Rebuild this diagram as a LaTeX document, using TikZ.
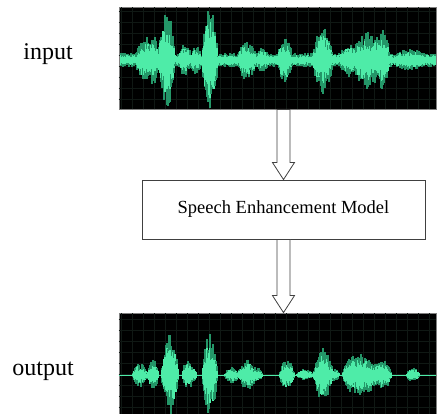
\documentclass[tikz,border=0pt]{standalone}
\usepackage{fontspec}
\setmainfont{Liberation Serif}
\usetikzlibrary{calc}

\definecolor{wavehi}{RGB}{78,236,168}
\definecolor{wavelo}{RGB}{36,150,104}
\definecolor{gridcol}{RGB}{16,24,20}

\tikzset{
  panel/.style={draw=black!50, fill=black, line width=0.8pt, inner sep=0pt},
  modelbox/.style={draw=black!75, line width=0.9pt, fill=white, inner sep=0pt,
    minimum width=283pt, minimum height=59pt, font=\fontsize{18.5}{20}\selectfont},
  sidelabel/.style={font=\fontsize{24}{26}\selectfont, anchor=base, inner sep=0pt},
  hollow/.style={draw=black!75, line width=0.8pt, fill=white, line join=miter},
  wavestroke/.style={line width=1.1pt},
}

% one waveform: #1 centre line, #2 base amplitude, #3 bumps c/w/h
\newcommand{\wavetrace}[3]{
  \foreach \wx in {121,122,...,435}{
    \gdef\ampacc{#2}
    \foreach \bc/\bw/\bh in {#3}{
      \pgfmathparse{max(0,1-abs(\wx-\bc)/\bw)}
      \pgfmathparse{\ampacc+\bh*\pgfmathresult*(2-\pgfmathresult)}
      \xdef\ampacc{\pgfmathresult}
    }
    \pgfmathsetmacro{\wup}{\ampacc*(0.5+0.5*rnd)}
    \pgfmathsetmacro{\wdn}{\ampacc*(0.5+0.5*rnd)}
    \pgfmathsetmacro{\cup}{0.75*\ampacc*(0.45+0.55*rnd)}
    \pgfmathsetmacro{\cdn}{0.75*\ampacc*(0.45+0.55*rnd)}
    \draw[wavestroke, wavelo] (\wx,#1-\wup) -- (\wx,#1+\wdn);
    \draw[wavestroke, wavehi] (\wx,#1-\cup) -- (\wx,#1+\cdn);
  }
}

% hollow block arrow from #1 down to #2
\newcommand{\hollowarrow}[2]{
  \draw[hollow] let \p1=(#1), \p2=(#2) in
    (\x2-6.5pt,\y1) -- (\x2-6.5pt,\y2+17pt) -- (\x2-11pt,\y2+17pt) --
    (\x2,\y2) -- (\x2+11pt,\y2+17pt) -- (\x2+6.5pt,\y2+17pt) --
    (\x2+6.5pt,\y1) -- cycle;
}

\begin{document}
\begin{tikzpicture}[x=1pt, y=-1pt]
  \useasboundingbox (0,0) rectangle (437,414);
  \pgfmathsetseed{4217}

  % panels
  \node[panel, minimum width=317pt, minimum height=102pt] (inwave) at (277.5,58) {};
  \node[panel, minimum width=317pt, minimum height=101pt] (outwave) at (277.5,363.5) {};
  \node[modelbox] (model) at (283.5,209.5) {Speech Enhancement Model};

  % input waveform
  \begin{scope}
    \clip (inwave.south west) rectangle (inwave.north east);
    \draw[gridcol, line width=0.3pt, step=11pt] (inwave.south west) grid (inwave.north east);
    \wavetrace{60}{7}{147/11/16, 156/6/10, 167/8/44, 185/6/10, 196/5/7,
      210/8/46, 247/9/14, 262/6/5, 285/7/18, 323/10/27, 350/10/10,
      367/12/22, 382/8/24, 410/16/4}
  \end{scope}

  % output waveform
  \begin{scope}
    \clip (outwave.south west) rectangle (outwave.north east);
    \draw[gridcol, line width=0.3pt, step=11pt] (outwave.south west) grid (outwave.north east);
    \draw[wavehi, line width=0.6pt] (outwave.west |- 0,375) -- (outwave.east |- 0,375);
    \wavetrace{375}{0.3}{140/8/12, 153/6/16, 170/9/40, 187/5/15, 193/4/9,
      210/8/42, 232/8/8, 247/9/16, 258/5/7, 287/8/16, 305/9/6,
      323/10/27, 335/5/6, 353/11/19, 367/11/19, 383/9/16, 413/7/8}
  \end{scope}

  % labels
  \node[sidelabel] (inlabel) at (48,60) {input};
  \node[sidelabel] (outlabel) at (43,376) {output};

  % arrows
  \hollowarrow{inwave.south -| model.north}{model.north}
  \hollowarrow{model.south}{outwave.north -| model.south}
\end{tikzpicture}
\end{document}
